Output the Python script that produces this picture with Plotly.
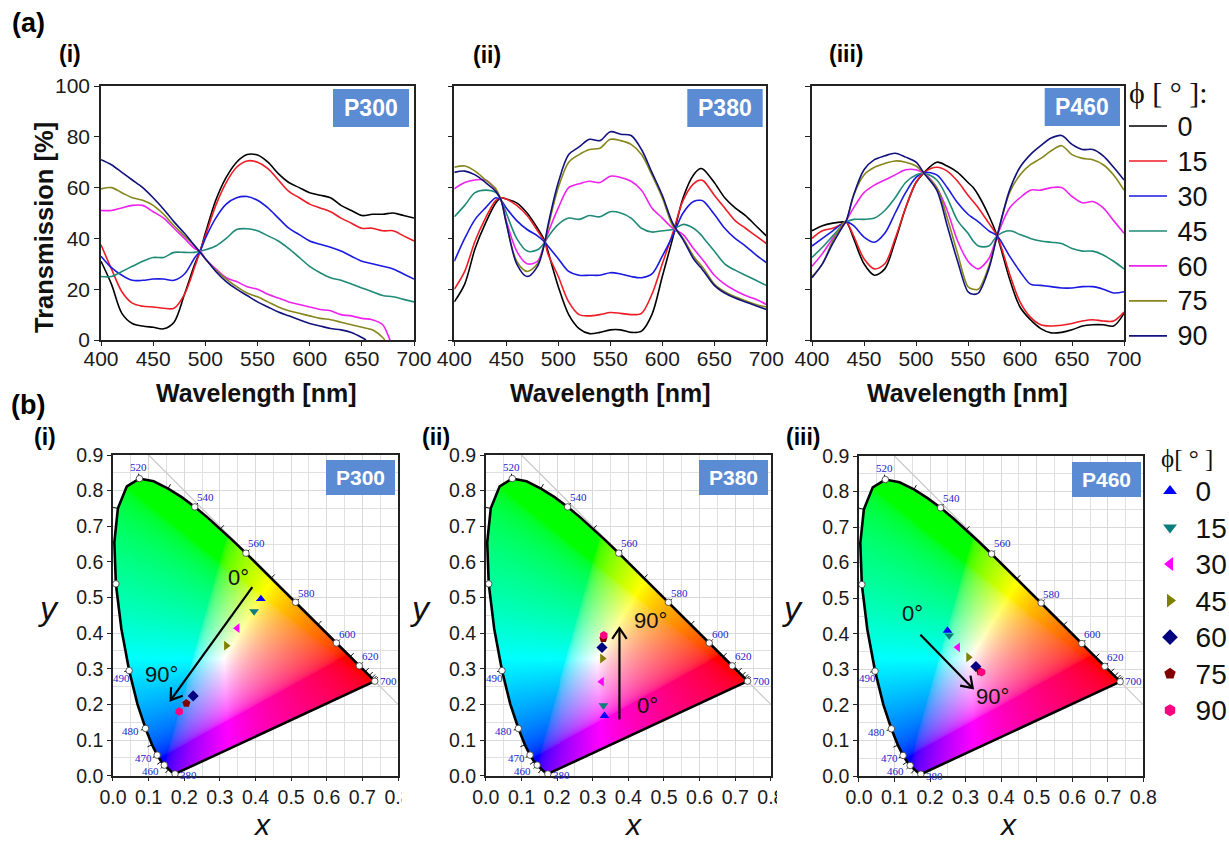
import numpy as np
import plotly.graph_objects as go

W, H = 1229, 844
ANGLES = ["0", "15", "30", "45", "60", "75", "90"]
LINE_COLORS = ["#000000", "#ee1c25", "#1a1ae0", "#1f8a78", "#ee22ee", "#86861c", "#12127f"]
MARK_COLORS = ["#0000ff", "#0a7d7d", "#ff00ff", "#808000", "#000080", "#800000", "#ff0080"]
MARK_SYMBOLS = ["triangle-up", "triangle-down", "triangle-left", "triangle-right", "diamond", "pentagon", "hexagon"]

# ---------- (a)(i) P300 ----------
WL_I = [400,410,420,430,440,450,460,470,480,490,495,500,510,520,530,540,550,560,570,580,590,600,610,620,630,640,650,660,670,680,690,700]
P300_0  = [31,22,10.5,6.5,5.5,5,4.4,7,18,30,35,42,55,64,70,73,72.8,70,65.5,62,60,58,57,56,53,51,49,49.5,49.5,50,49,48]
P300_15 = [37.5,28,19,14.5,13.3,13,12.5,12.5,18,29,35,41,53,62,68,70.5,70,67.5,63,58.5,56,53.5,52,50.5,48,46,44,44,43,43,41,39]
P300_30 = [33,28.5,25.5,23.5,23.5,24,24,23.5,26,32.5,35,40,48,53.5,56,56.5,55,52,48,44,41.5,39,37.7,36.5,35,33,31,30,29,28,26,24]
P300_45 = [25,25,27,29,31,32.5,32.5,34.5,34.5,34.5,35,35.5,37,40,43.5,43.8,43,41,39,36,32.5,29,26.5,24.5,23.5,22,20.5,19,17.5,17,16,15]
P300_60 = [51,51,52,53,53,50.5,48,44,40,36,35,32,28,24.5,23,21,20,18,16.5,15,14,13,12,11.5,10,9.5,8.5,8,6,2,0]
P300_75 = [59.5,60,58,56,55,53,49.5,45,41,37,34.5,32,27.5,24,21,18.5,17,15,13,11.5,10.5,9.5,8.5,8,7,6,5,4,1,0]
P300_90 = [71,69,66,63,60,56,51.5,46.5,42,37,34.5,32,27,23,20,17.5,15,13,11,9.5,8,6.5,5.5,4.5,4,3,1,0]
WL_I_60 = WL_I[:28] + [670, 675, 677]
WL_I_75 = WL_I[:28] + [670, 672]
WL_I_90 = WL_I[:26] + [650, 654]

# ---------- (a)(ii) P380 ----------
WL_II = [400,410,420,430,440,445,450,460,470,480,487,490,500,510,520,530,540,550,560,570,580,590,600,610,620,630,637,640,650,660,670,680,690,700]
P380_0  = [15,22,36,46,54,56,55.5,54,50,44,39,35,21,10,4.5,2.5,3,4,4,3,3.5,10,25,40,56,65,67.5,67,62,56,52,49,45,41]
P380_15 = [20,27,39,48,55,56,55.5,53,49,43,38.5,34,25,15,10,9.5,10,10.8,10.5,10,10.5,18,30,42,55,61.5,63,62.5,57,52,47,44,41,38]
P380_30 = [31,40,47.5,52,56,55,52,47,43.5,41,38.5,37,32,27,25.5,25.5,25.5,26.5,26,25,24.5,26,33,41,50,54.5,55,54.5,49.5,44,40,37,33.5,30.5]
P380_45 = [48.5,53,58,59,58,55,50,40,35,35.5,38.5,40.5,45.5,48,47.5,49,48.5,50.5,50,48,44,42.5,43,43.5,45.5,44,41.5,40,35,30,27.5,25.5,23.5,21.5]
P380_60 = [59.5,62,63,63,59,55,47,35,30,31,38.5,42,52,60,61.5,62.5,62,64.5,64,62.5,59,52,48,44,41.5,36,32.5,31,25.5,22,19.5,17.5,16,14]
P380_75 = [68,68.5,66.5,63,59.5,55,46,31,27,30,38.5,44,60,70,73,75,75.5,79,78.5,77,73,65,56,45,40,33,29.5,28,22,19,17,15.5,14,13]
P380_90 = [66,66.5,65,62,58.5,55,46,30,25,29,38.5,45,62,73,76,79,78.5,82,81,80.5,75,66,57,46,39.5,32,28.5,27,21.5,18.5,16.5,15,13.5,12]

# ---------- (a)(iii) P460 ----------
WL_III = [400,410,420,430,433,440,450,460,470,480,490,500,508,520,530,540,550,555,560,570,578,590,600,610,620,630,640,650,660,670,680,690,700]
P460_0  = [43,45,46,46.5,46.5,40,30,25.5,28,39,52,62,66,70,68.5,66,62,60,57,49,41,24,13,8,4.5,2.8,3,4,5.5,6,6,5.5,10.5]
P460_15 = [40,43,44,46,46.5,41,32,28,30,40,52,62,66,68,66.5,62.5,57,54.5,52,46,41,26,15,9,6,5.5,5.8,6.5,7.5,8,7.5,7.5,11]
P460_30 = [37,40,43,46,46.5,45,40.5,38.5,42,50,58,64,66,65,60,54,49.5,48,46.5,43,41,33,27,22,21.5,21,20.5,20.5,21,21,20,18.5,19]
P460_45 = [32.5,36.5,41,45.5,46.5,47.5,47.5,48,51,56,62,65,65.5,63,56,47,42,39,37,37,41,43,41.5,40,39,38.5,38,36,35,35,33.5,31,28]
P460_60 = [29,34,40,45,47,52,58,61,63,65,67,67,65.5,60,51,39,31,29,28,32,41,52,56,59,59,60,60,56.5,54,54.5,52,47,42]
P460_75 = [25,30,39,46,47,57,65,68,69.5,70.5,70,68.5,65.5,60,48,34,21,20,20,29,41,58,65,69,71.5,74.5,76.5,73,71.5,71,69,65,59]
P460_90 = [24.5,30,38,45,47,57,67,71,72.5,73.5,72,70,65.5,59,45,31,19,18,18.5,28,41,59,68,73,76.5,79.5,80.5,77,75,75,72.5,68,63]

WL_TICKS = [400, 450, 500, 550, 600, 650, 700]
T_TICKS = [0, 20, 40, 60, 80, 100]
CIE_X_TICKS = [0.0, 0.1, 0.2, 0.3, 0.4, 0.5, 0.6, 0.7, 0.8]
CIE_Y_TICKS = [0.0, 0.1, 0.2, 0.3, 0.4, 0.5, 0.6, 0.7, 0.8, 0.9]

# ---------- CIE points per sample ----------
P300_X = [.415,.396,.349,.318,.225,.206,.186]
P300_Y = [.496,.461,.414,.365,.224,.203,.180]
P380_X = [.333,.330,.325,.327,.326,.330,.331]
P380_Y = [.168,.197,.264,.329,.360,.385,.394]
P460_X = [.249,.254,.278,.308,.329,.341,.345]
P460_Y = [.409,.395,.362,.334,.308,.293,.292]

# ---------- CIE 1931 spectral locus ----------
LOCUS_NM = [380,400,420,430,440,450,460,465,470,475,480,485,490,495,500,505,510,515,520,525,530,535,540,545,550,555,560,565,570,575,580,585,590,595,600,605,610,615,620,625,630,635,640,650,660,680,700]
LOCUS_X = [.1741,.1733,.1714,.1689,.1644,.1566,.1440,.1355,.1241,.1096,.0913,.0687,.0454,.0235,.0082,.0039,.0139,.0389,.0743,.1142,.1547,.1929,.2296,.2658,.3016,.3373,.3731,.4087,.4441,.4788,.5125,.5448,.5752,.6029,.6270,.6482,.6658,.6801,.6915,.7006,.7079,.7140,.7190,.7260,.7300,.7334,.7347]
LOCUS_Y = [.0050,.0048,.0051,.0069,.0109,.0177,.0297,.0399,.0578,.0868,.1327,.2007,.2950,.4127,.5384,.6548,.7502,.8120,.8338,.8262,.8059,.7816,.7543,.7243,.6923,.6589,.6245,.5896,.5547,.5202,.4866,.4544,.4242,.3965,.3725,.3514,.3340,.3197,.3083,.2993,.2920,.2859,.2809,.2740,.2700,.2666,.2653]
DOT_NM = [380,460,470,480,490,500,520,540,560,580,600,620,700]
TICK_NM = [450,465,475,505,510,530,550,570,590,610,630,640,650,660,680]
LABEL_NM = ["520","540","560","580","600","620","700","490","480","470","460","380"]
LABEL_X = [.0726,.259,.404,.543,.658,.722,.773,.023,.049,.085,.104,.212]
LABEL_Y = [.865,.783,.654,.513,.399,.335,.266,.275,.125,.050,.014,.001]

# ---------- pixel layout of the panels ----------
A_BOXES = [(101, 414), (454.3, 766.3), (812, 1124)]
A_Y = (86, 340)
B_BOXES = [(112.3, 398.7, 455, 775.7), (485, 771.7, 455, 775.7), (858, 1144.3, 456, 776)]

def px(x):
    return x / W
def py(y):
    return 1 - y / H

def big(t, size):
    return f'<span style="font-size:{size}px">\u2009{t}</span>'

fig = go.Figure()

# (a) line panels
panels = [
    ([WL_I, WL_I, WL_I, WL_I, WL_I_60, WL_I_75, WL_I_90], [P300_0, P300_15, P300_30, P300_45, P300_60, P300_75, P300_90]),
    ([WL_II] * 7, [P380_0, P380_15, P380_30, P380_45, P380_60, P380_75, P380_90]),
    ([WL_III] * 7, [P460_0, P460_15, P460_30, P460_45, P460_60, P460_75, P460_90]),
]
for p, (wls, series) in enumerate(panels):
    for k, (wl, t) in enumerate(zip(wls, series)):
        fig.add_trace(go.Scatter(
            x=wl, y=t, mode="lines", name=big(ANGLES[k], 27), xaxis=f"x{p+1}", yaxis=f"y{p+1}",
            line=dict(color=LINE_COLORS[k], width=1.6, shape="spline", smoothing=0.9),
            showlegend=(p == 0), legend="legend"))

axis_font = dict(family="Liberation Sans, Arial", size=21, color="#1a1a1a")
layout = dict(width=W, height=H, margin=dict(l=0, r=0, t=0, b=0, autoexpand=False), plot_bgcolor="white", paper_bgcolor="white",
              font=dict(family="Liberation Sans, Arial"))
for p, (x0, x1) in enumerate(A_BOXES):
    layout[f"xaxis{p+1}"] = dict(
        domain=[px(x0), px(x1)], anchor=f"y{p+1}", range=[400, 700], tickvals=WL_TICKS, ticks="outside", ticklen=4,
        tickwidth=1.3, tickcolor="#222", linecolor="#222", linewidth=1.5, mirror=True, showgrid=False, zeroline=False,
        tickfont=axis_font, ticklabelstandoff=-5)
    layout[f"yaxis{p+1}"] = dict(
        domain=[py(A_Y[1]), py(A_Y[0])], anchor=f"x{p+1}", range=[0, 100], tickvals=T_TICKS, ticks="outside", ticklen=5,
        tickwidth=1.3, tickcolor="#222", linecolor="#222", linewidth=1.5, mirror=True, showgrid=False, zeroline=False,
        tickfont=axis_font, showticklabels=(p == 0))

# chromaticity colour field, clipped to the horseshoe
nx, ny = 287, 321
gx = (np.arange(nx) + 0.5) / nx * 0.8
gy = (np.arange(ny) + 0.5) / ny * 0.9
xx, yy = np.meshgrid(gx, gy)
poly_x, poly_y = np.array(LOCUS_X), np.array(LOCUS_Y)
inside = np.zeros(xx.shape, dtype=bool)
for i in range(len(poly_x)):
    j = (i - 1) % len(poly_x)
    cond = (poly_y[i] > yy) != (poly_y[j] > yy)
    xint = (poly_x[j] - poly_x[i]) * (yy - poly_y[i]) / (poly_y[j] - poly_y[i] + 1e-12) + poly_x[i]
    inside ^= cond & (xx < xint)
Xc, Yc, Zc = xx / yy, np.ones_like(xx), (1 - xx - yy) / yy
R = 3.2406 * Xc - 1.5372 * Yc - 0.4986 * Zc
G = -0.9689 * Xc + 1.8758 * Yc + 0.0415 * Zc
B = 0.0557 * Xc - 0.2040 * Yc + 1.0570 * Zc
rgb = np.clip(np.stack([R, G, B], axis=-1), 0, None)
rgb = rgb / rgb.max(axis=-1, keepdims=True)
rgb = rgb ** (1 / 2.2)
img = np.dstack([np.round(rgb * 255), inside * 255.0]).astype(int).tolist()

# locus ticks, pointing outward
lx, ly = np.array(LOCUS_X), np.array(LOCUS_Y)
tick_x, tick_y = [], []
cx, cy = 0.33, 0.33
for nm in TICK_NM + DOT_NM[1:-1]:
    i = LOCUS_NM.index(nm)
    dx, dy = lx[i + 1] - lx[i - 1], ly[i + 1] - ly[i - 1]
    nrm = np.hypot(dx, dy)
    nxv, nyv = dy / nrm, -dx / nrm
    if nxv * (lx[i] - cx) + nyv * (ly[i] - cy) < 0:
        nxv, nyv = -nxv, -nyv
    tick_x += [lx[i], lx[i] + 0.014 * nxv, None]
    tick_y += [ly[i], ly[i] + 0.014 * nyv, None]

ARROWS = [((.391, .529), (.162, .212)), ((.375, .158), (.375, .414)), ((.173, .397), (.320, .247))]
samples = [(P300_X, P300_Y), (P380_X, P380_Y), (P460_X, P460_Y)]
dots = [LOCUS_NM.index(n) for n in DOT_NM]
for q, (x0, x1, y0, y1) in enumerate(B_BOXES):
    n = q + 4
    xa, ya = f"x{n}", f"y{n}"
    layout[f"xaxis{n}"] = dict(
        domain=[px(x0), px(x1)], anchor=ya, range=[0, 0.8], tickvals=CIE_X_TICKS, ticktext=[f"{v:.1f}" for v in CIE_X_TICKS],
        ticks="outside", ticklen=4, tickwidth=1.2, tickcolor="#222", linecolor="#222", linewidth=1.5, mirror=True,
        showgrid=True, gridcolor="#d9d9d9", gridwidth=1, zeroline=False, tickfont=dict(family="Liberation Sans, Arial", size=19.5, color="#1a1a1a"),
        ticklabelstandoff=-1,
        minor=dict(tickvals=[round(0.05 + 0.1 * i, 2) for i in range(8)], showgrid=True, gridcolor="#e0e0e0", gridwidth=1, ticks=""))
    layout[f"yaxis{n}"] = dict(
        domain=[py(y1), py(y0)], anchor=xa, range=[0, 0.9], tickvals=CIE_Y_TICKS, ticktext=[f"{v:.1f}" for v in CIE_Y_TICKS],
        ticks="outside", ticklen=4, tickwidth=1.2, tickcolor="#222", linecolor="#222", linewidth=1.5, mirror=True,
        showgrid=True, gridcolor="#d9d9d9", gridwidth=1, zeroline=False, tickfont=dict(family="Liberation Sans, Arial", size=19.5, color="#1a1a1a"),
        minor=dict(tickvals=[round(0.05 + 0.1 * i, 2) for i in range(9)], showgrid=True, gridcolor="#e0e0e0", gridwidth=1, ticks=""))
    fig.add_trace(go.Image(z=img, colormodel="rgba256", x0=gx[0], dx=gx[1] - gx[0], y0=gy[0], dy=gy[1] - gy[0],
                           xaxis=xa, yaxis=ya, hoverinfo="skip"))
    fig.add_trace(go.Scatter(x=[0.1, 0.8], y=[0.9, 0.2], mode="lines", line=dict(color="#c9c9c9", width=1.2),
                             xaxis=xa, yaxis=ya, showlegend=False, hoverinfo="skip"))
    fig.add_trace(go.Scatter(x=tick_x, y=tick_y, mode="lines", line=dict(color="#111", width=1),
                             xaxis=xa, yaxis=ya, showlegend=False, hoverinfo="skip", cliponaxis=False))
    fig.add_trace(go.Scatter(x=LOCUS_X + LOCUS_X[:1], y=LOCUS_Y + LOCUS_Y[:1], mode="lines", line=dict(color="#000", width=2.6),
                             xaxis=xa, yaxis=ya, showlegend=False, hoverinfo="skip", cliponaxis=False))
    fig.add_trace(go.Scatter(x=[LOCUS_X[i] for i in dots], y=[LOCUS_Y[i] for i in dots], mode="markers",
                             marker=dict(color="white", size=6.5, line=dict(color="#333", width=0.8)),
                             xaxis=xa, yaxis=ya, showlegend=False, hoverinfo="skip", cliponaxis=False))
    sx, sy = samples[q]
    for k in range(7):
        fig.add_trace(go.Scatter(x=[sx[k]], y=[sy[k]], mode="markers", name=big(ANGLES[k], 28), xaxis=xa, yaxis=ya,
                                 marker=dict(color=MARK_COLORS[k], symbol=MARK_SYMBOLS[k], size=8.5),
                                 showlegend=(q == 2), legend="legend2"))
    (ax, ay), (bx, by) = ARROWS[q]
    ang = np.arctan2(by - ay, bx - ax)
    b1 = (bx - 0.036 * np.cos(ang - 0.6), by - 0.036 * np.sin(ang - 0.6))
    b2 = (bx - 0.036 * np.cos(ang + 0.6), by - 0.036 * np.sin(ang + 0.6))
    fig.add_trace(go.Scatter(x=[ax, bx, None, b1[0], bx, b2[0]], y=[ay, by, None, b1[1], by, b2[1]], mode="lines",
                             line=dict(color="#000", width=2.2), xaxis=xa, yaxis=ya, showlegend=False, hoverinfo="skip"))

annots, shapes = [], []
def text(t, x, y, size, bold=False, color="#111", family="Liberation Sans, Arial", angle=0):
    annots.append(dict(text=f"<b>{t}</b>" if bold else t, x=px(x), y=py(y), xref="paper", yref="paper", showarrow=False,
                       xanchor="center", yanchor="middle", textangle=angle, font=dict(size=size, color=color, family=family)))
def badge(t, x0, x1, y0, y1, size):
    shapes.append(dict(type="rect", xref="paper", yref="paper", x0=px(x0), x1=px(x1), y0=py(y1), y1=py(y0),
                       fillcolor="#5b8bd2", line=dict(width=0)))
    text(t, (x0 + x1) / 2, (y0 + y1) / 2, size, bold=True, color="white")

text("(a)", 28, 23, 27, True, "#000"); text("(b)", 28, 405, 27, True, "#000")
text("(i)", 70, 54, 23, True, "#000"); text("(ii)", 487, 55, 23, True, "#000"); text("(iii)", 846, 54, 23, True, "#000")
text("(i)", 45, 437, 23, True, "#000"); text("(ii)", 436, 437, 23, True, "#000"); text("(iii)", 803, 437, 23, True, "#000")
text("Transmission [%]", 44, 228, 25.5, True, "#111", angle=-90)
text("Wavelength [nm]", 256, 393, 25, True, "#111"); text("Wavelength [nm]", 610, 393, 25, True, "#111"); text("Wavelength [nm]", 967, 393, 25, True, "#111")
badge("P300", 333, 409, 89, 127, 23); badge("P380", 687.3, 762.7, 89, 127, 23); badge("P460", 1044.7, 1120, 88, 126, 23)
badge("P300", 326, 395, 460, 495, 21); badge("P380", 699, 768, 460, 495, 21); badge("P460", 1072, 1141, 462, 497, 21)
text("0°", 238, 577, 22); text("90°", 161, 674, 22)
text("0°", 647, 705, 22); text("90°", 650, 620, 22)
text("0°", 912, 613, 22); text("90°", 992, 696, 22)
for xp in (262, 633, 1008):
    text("<i>x</i>", xp, 824, 30)
for xp in (48, 421, 792):
    text("<i>y</i>", xp, 608, 34)
text("ϕ [ ° ]:", 1168, 92, 30, family="Liberation Serif, serif")
text("ϕ[ ° ]", 1187, 458, 25, family="Liberation Serif, serif")

for q in range(3):
    for t, lxv, lyv in zip(LABEL_NM, LABEL_X, LABEL_Y):
        annots.append(dict(text=t, x=lxv, y=lyv, xref=f"x{q+4}", yref=f"y{q+4}", showarrow=False,
                           font=dict(size=11, color="#2222cc", family="Liberation Serif, serif")))

# the source picture crops the last x label of the first two CIE panels
shapes.append(dict(type="rect", xref="paper", yref="paper", x0=px(402), x1=px(424), y0=py(810), y1=py(782), fillcolor="white", line=dict(width=0), layer="above"))
shapes.append(dict(type="rect", xref="paper", yref="paper", x0=px(777), x1=px(790), y0=py(810), y1=py(782), fillcolor="white", line=dict(width=0), layer="above"))

layout["annotations"] = annots
layout["shapes"] = shapes
layout["legend"] = dict(x=px(1124), y=py(103.5), xanchor="left", yanchor="top", bgcolor="rgba(0,0,0,0)", itemwidth=38,
                        font=dict(size=24.6, color="#111", family="Liberation Sans, Arial"), tracegroupgap=0)
layout["legend2"] = dict(x=px(1150), y=py(467.7), xanchor="left", yanchor="top", bgcolor="rgba(0,0,0,0)", itemwidth=30, itemsizing="constant",
                         font=dict(size=25.8, color="#111", family="Liberation Sans, Arial"))
fig.update_layout(**layout)
fig.write_html("out.html", config={"displayModeBar": False},
               post_script="document.body.style.margin='0';document.documentElement.style.overflow='hidden';")
